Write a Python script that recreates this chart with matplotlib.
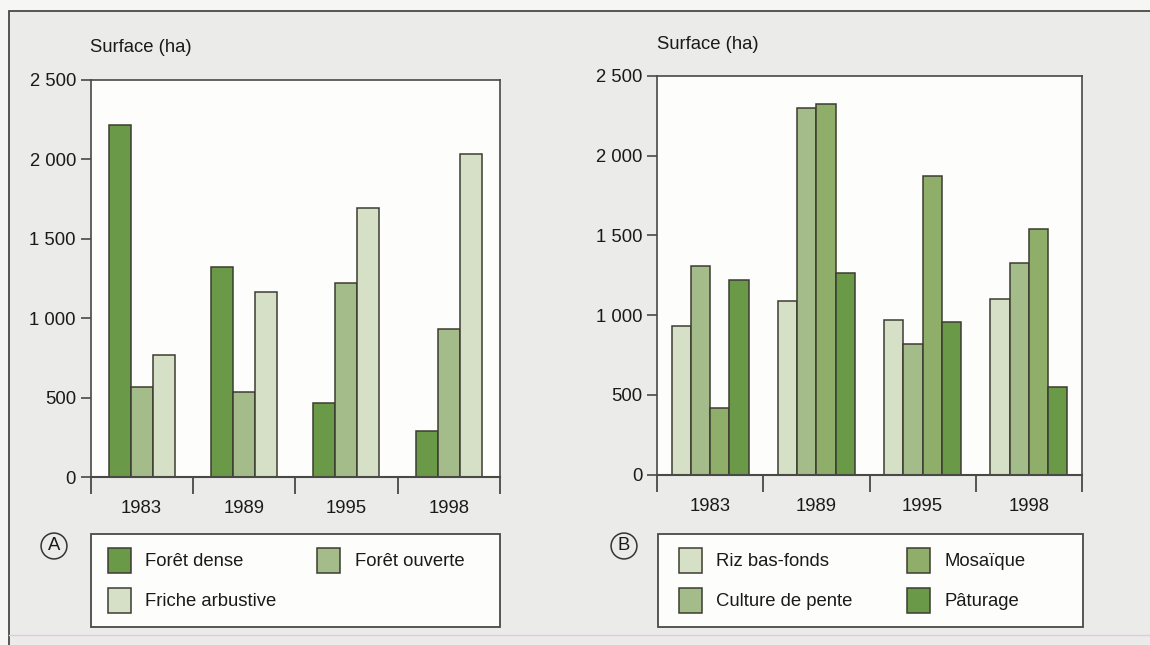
import matplotlib
matplotlib.use("Agg")
import matplotlib.pyplot as plt
from matplotlib.patches import Rectangle, Patch
from matplotlib.ticker import FuncFormatter, FixedLocator

plt.rcParams['font.family'] = ['Liberation Sans', 'DejaVu Sans']

# data
years = ['1983', '1989', '1995', '1998']

# panel A
foret_dense = [2215, 1320, 465, 290]
foret_ouverte = [565, 538, 1222, 935]
friche_arbustive = [770, 1163, 1693, 2032]

# panel B
riz_bas_fonds = [935, 1090, 969, 1102]
culture_pente = [1309, 2299, 822, 1326]
mosaique = [416, 2326, 1874, 1539]
paturage = [1221, 1263, 960, 548]

yticks = [0, 500, 1000, 1500, 2000, 2500]

dark = '#6a9a48'
mid = '#a4bc89'
light = '#d5e0c7'
mosa = '#8fae69'
edge = '#3c3c32'
frame_col = '#4a4a44'
txt = '#1a1a1a'
fs = 13.3

W, H = 1150, 645
fig = plt.figure(figsize=(W / 100, H / 100), dpi=100)
fig.patch.set_facecolor('#f6f6f4')

# grey page with the outer frame, kept under the axes
fig.patches.append(Rectangle((9 / W, -0.01), 1.01 - 9 / W, 1.01 - 11 / H, transform=fig.transFigure,
                             facecolor='#ebebea', edgecolor=frame_col, lw=1.3, zorder=-10))
fig.lines.append(plt.Line2D([9 / W, 1], [1 - 635 / H, 1 - 635 / H], transform=fig.transFigure,
                            color='#e4c9dc', lw=1.0, zorder=-9))


def px_axes(x0, x1, y0, y1):
    return fig.add_axes([x0 / W, 1 - y1 / H, (x1 - x0) / W, (y1 - y0) / H])


def thousands(v, pos):
    return '{:,}'.format(int(v)).replace(',', ' ')


def style(ax):
    ax.set_facecolor('#fdfdfb')
    ax.set_xlim(-0.5, 3.5)
    ax.set_ylim(0, 2500)
    for s in ax.spines.values():
        s.set_color(frame_col)
        s.set_linewidth(1.2)
    ax.spines['bottom'].set_linewidth(1.5)
    ax.yaxis.set_major_locator(FixedLocator(yticks))
    ax.yaxis.set_major_formatter(FuncFormatter(thousands))
    ax.tick_params(axis='y', length=7.5, width=1.2, color=frame_col, pad=3,
                   labelsize=fs, labelcolor=txt)
    ax.set_xticks(range(len(years)))
    ax.set_xticklabels(years)
    ax.set_xticks([-0.5, 0.5, 1.5, 2.5, 3.5], minor=True)
    ax.tick_params(axis='x', which='major', length=0, pad=16.5, labelsize=fs,
                   labelcolor=txt)
    ax.tick_params(axis='x', which='minor', length=12, width=1.3, color=frame_col)
    ax.annotate('Surface (ha)', xy=(0, 1), xycoords='axes fraction', xytext=(0, 23),
                textcoords='offset points', ha='left', va='center', fontsize=fs,
                color=txt)


def bars(ax, series, colors, width):
    n = len(series)
    for i, (vals, c) in enumerate(zip(series, colors)):
        off = (i - (n - 1) / 2) * width
        ax.bar([k + off for k in range(len(years))], vals, width=width, color=c,
               edgecolor=edge, linewidth=1.1, zorder=2)


def legend(labels, colors, box, anchor, colsp):
    x0, x1, y0, y1 = box
    fig.patches.append(Rectangle((x0 / W, 1 - y1 / H), (x1 - x0) / W, (y1 - y0) / H,
                                 transform=fig.transFigure, facecolor='#fdfdfb',
                                 edgecolor=frame_col, lw=1.3, zorder=1))
    handles = [Patch(facecolor=c, edgecolor=edge, linewidth=1.1) for c in colors]
    leg = fig.legend(handles, labels, loc='upper left', ncol=2,
                     bbox_to_anchor=(anchor[0] / W, 1 - anchor[1] / H),
                     fontsize=fs, frameon=False,
                     handlelength=1.25, handleheight=1.7, handletextpad=0.76,
                     labelspacing=0.8, borderpad=0, borderaxespad=0,
                     columnspacing=colsp)
    leg.set_zorder(2)
    for t in leg.get_texts():
        t.set_color(txt)
    return leg


def circled(x, y, s):
    fig.text(x / W, 1 - y / H, s, ha='center', va='center', fontsize=fs, color=txt,
             bbox=dict(boxstyle='circle,pad=0.24', facecolor='none', edgecolor='#333333',
                       lw=1.1))


# panel A
axA = px_axes(90.5, 500, 79.5, 477.3)
style(axA)
bars(axA, [foret_dense, foret_ouverte, friche_arbustive], [dark, mid, light], 0.215)
legend(['Forêt dense', 'Friche arbustive', 'Forêt ouverte'], [dark, light, mid],
       (90.5, 500, 534, 627), (108, 548), 2.22)
circled(54, 546, 'A')

# panel B
axB = px_axes(657, 1082, 76, 474.7)
style(axB)
bars(axB, [riz_bas_fonds, culture_pente, mosaique, paturage], [light, mid, mosa, dark], 0.181)
legend(['Riz bas-fonds', 'Culture de pente', 'Mosaïque', 'Pâturage'],
       [light, mid, mosa, dark], (657.5, 1083, 534, 627), (679, 548), 2.95)
circled(624, 546, 'B')

fig.savefig('out.png', dpi=100, facecolor=fig.get_facecolor())
